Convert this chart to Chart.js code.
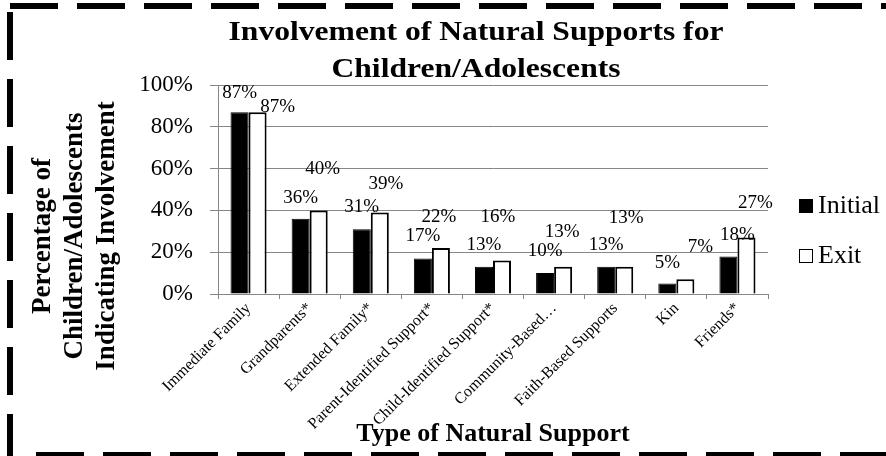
<!DOCTYPE html>
<html>
<head>
<meta charset="utf-8">
<script src="https://cdn.jsdelivr.net/npm/chart.js@4"></script>
<style>
  body { margin: 0; background: #fff; }
  #wrap { width: 886px; height: 456px; position: relative; }
</style>
</head>
<body>
<div id="wrap"><canvas id="supportChart"></canvas></div>
<script>
/* --------------- Data --------------------- */
const categories = [
  "Immediate Family",
  "Grandparents*",
  "Extended Family*",
  "Parent-Identified Support*",
  "Child-Identified Support*",
  "Community-Based…",
  "Faith-Based Supports",
  "Kin",
  "Friends*",
];
const initialValues = [87, 36, 31, 17, 13, 10, 13, 5, 18];
const exitValues = [87, 40, 39, 22, 16, 13, 13, 7, 27];
const seriesNames = ["Initial", "Exit"];
const yTickValues = [0, 20, 40, 60, 80, 100];
const yTitleLines = ["Percentage of", "Children/Adolescents", "Indicating Involvement"];

/* --------------- Label nudges (dx, px above bar top) --------------------- */
const initialLabelShift = [[0, 19], [0, 21], [0, 22], [0, 22], [0, 22], [0, 22], [0, 22], [0, 21], [9, 21]];
const exitLabelShift = [[20, 5], [4, 41], [6, 28], [-2, 31], [-4, 44], [-1, 35], [2, 49], [15, 32], [9, 35]];

const serif = '"Liberation Serif", "Times New Roman", serif';
const gray = "#868686";

/* --------------- Extra drawing: titles, labels, legend, border --------------------- */
const extras = {
  id: "extras",
  afterDraw(chart) {
    const ctx = chart.ctx;
    const area = chart.chartArea;
    ctx.save();

    // title (slightly wide, like the original)
    const cx = (area.left + area.right) / 2 - 17;
    ctx.fillStyle = "#000";
    ctx.font = "bold 27px " + serif;
    ctx.textAlign = "center";
    ctx.textBaseline = "alphabetic";
    [["Involvement of Natural Supports for", 40], ["Children/Adolescents", 77]].forEach(([t, y]) => {
      ctx.save();
      ctx.translate(cx, y);
      ctx.scale(1.17, 1);
      ctx.fillText(t, 0, 0);
      ctx.restore();
    });

    // y axis title, three rotated lines
    ctx.font = "bold 27px " + serif;
    yTitleLines.forEach((t, i) => {
      ctx.save();
      ctx.translate(50 + i * 32, 236);
      ctx.rotate(-Math.PI / 2);
      ctx.fillText(t, 0, 0);
      ctx.restore();
    });

    // value labels
    ctx.font = "19px " + serif;
    ctx.textBaseline = "middle";
    [initialLabelShift, exitLabelShift].forEach((shift, di) => {
      chart.getDatasetMeta(di).data.forEach((bar, i) => {
        const v = chart.data.datasets[di].data[i];
        ctx.fillText(v + "%", bar.x + shift[i][0], bar.y - shift[i][1]);
      });
    });

    // legend
    ctx.font = "26px " + serif;
    ctx.textAlign = "left";
    ctx.textBaseline = "alphabetic";
    const items = [
      { y: 199, fill: "#000" },
      { y: 249, fill: "#fff" },
    ];
    items.forEach((it, i) => {
      ctx.fillStyle = it.fill;
      ctx.fillRect(799, it.y, 14, 14);
      ctx.strokeStyle = "#000";
      ctx.lineWidth = 1;
      ctx.strokeRect(799.5, it.y + 0.5, 13, 13);
      ctx.fillStyle = "#000";
      ctx.fillText(seriesNames[i], 818, it.y + 14);
    });

    // dashed frame
    ctx.strokeStyle = "#000";
    ctx.lineWidth = 6;
    ctx.setLineDash([48, 19]);
    ctx.beginPath();
    ctx.moveTo(10, 6); ctx.lineTo(886, 6);
    ctx.moveTo(10, 12); ctx.lineTo(10, 456);
    ctx.moveTo(36, 455); ctx.lineTo(886, 455);
    ctx.stroke();
    ctx.restore();
  },
};

/* --------------- Chart --------------------- */
const supportChart = new Chart(document.getElementById("supportChart"), {
  type: "bar",
  plugins: [extras],
  data: {
    labels: categories,
    datasets: [
      {
        label: seriesNames[0],
        data: initialValues,
        backgroundColor: "#000",
        borderColor: "#000",
        borderWidth: 1,
      },
      {
        label: seriesNames[1],
        data: exitValues,
        backgroundColor: "#fff",
        borderColor: "#000",
        borderWidth: 2,
      },
    ],
  },
  options: {
    responsive: true,
    maintainAspectRatio: false,
    animation: false,
    layout: { padding: { top: 85, right: 118, bottom: 0, left: 0 } },
    datasets: { bar: { categoryPercentage: 0.59, barPercentage: 1 } },
    plugins: {
      legend: { display: false },
      title: { display: false },
      tooltip: { enabled: false },
    },
    scales: {
      x: {
        grid: { drawOnChartArea: false, color: gray, tickLength: 5 },
        border: { color: gray },
        ticks: {
          color: "#000",
          font: { family: serif, size: 16 },
          minRotation: 45,
          maxRotation: 45,
          autoSkip: false,
          padding: 0,
        },
        title: {
          display: true,
          text: "Type of Natural Support",
          color: "#000",
          font: { family: serif, size: 26, weight: "bold", lineHeight: 1.2 },
          padding: { top: 0, bottom: 6 },
        },
        afterFit(axis) { axis.height = 162; },
      },
      y: {
        min: 0,
        max: 100,
        afterBuildTicks(axis) { axis.ticks = yTickValues.map((v) => ({ value: v })); },
        grid: { color: gray, tickLength: 8 },
        border: { color: gray },
        ticks: {
          color: "#000",
          font: { family: serif, size: 23 },
          padding: 17,
          callback: (v) => v + "%",
        },
        afterFit(axis) { axis.width = 218; },
      },
    },
  },
});
</script>
</body>
</html>
